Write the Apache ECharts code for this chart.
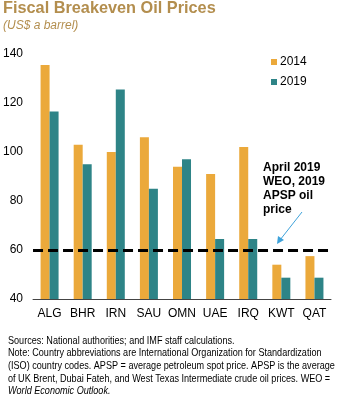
<!DOCTYPE html>
<html><head><meta charset="utf-8">
<script src="https://cdn.jsdelivr.net/npm/echarts@6/dist/echarts.min.js"></script>
<style>html,body{margin:0;padding:0;background:#fff}#c{width:338px;height:400px}</style>
</head><body><div id="c"></div>
<script>
var categories = ['ALG','BHR','IRN','SAU','OMN','UAE','IRQ','KWT','QAT'];
var values2014 = [135.5, 103, 100, 106, 94, 91, 102, 54, 57.5];
var values2019 = [116.5, 95, 125.5, 85, 97, 64.5, 64.5, 48.7, 48.7];
var yTicks = [40, 60, 80, 100, 120, 140];
var referencePrice = 60;
var titleText = 'Fiscal Breakeven Oil Prices';
var subtitleText = '(US$ a barrel)';
var annotationText = 'April 2019\nWEO, 2019\nAPSP oil\nprice';
var footnoteLines = [
 'Sources: National authorities; and IMF staff calculations.',
 'Note: Country abbreviations are International Organization for Standardization',
 '(ISO) country codes. APSP = average petroleum spot price. APSP is the average',
 'of UK Brent, Dubai Fateh, and West Texas Intermediate crude oil prices. WEO ='
];
var footnoteItalic = 'World Economic Outlook.';

var chart = echarts.init(document.getElementById('c'));
var sans = '"Liberation Sans", Arial, sans-serif';
var gold = '#B38E4E';
var graphics = [
 {type:'text', left:3, top:1, style:{text:titleText, font:'bold 16.3px ' + sans, fill:gold}},
 {type:'text', left:3, top:20, style:{text:subtitleText, font:'italic 12px ' + sans, fill:gold}},
 {type:'text', left:263, top:161, style:{text:annotationText, font:'bold 12px ' + sans, fill:'#000', lineHeight:14}},
 {type:'line', shape:{x1:302,y1:212,x2:280,y2:240}, style:{stroke:'#3EA2DA', lineWidth:1}},
 {type:'polygon', shape:{points:[[277,244],[278,236],[284,240]]}, style:{fill:'#3EA2DA'}}
];
var fnTop = 335.5, fnStep = 12.6, fnScale = 0.865;
footnoteLines.forEach(function(t,i){
 graphics.push({type:'text', x:8, y:fnTop + i*fnStep, scaleX:fnScale, style:{text:t, font:'10.5px ' + sans, fill:'#000'}});
});
graphics.push({type:'text', x:8, y:fnTop + 4*fnStep, scaleX:fnScale, style:{text:footnoteItalic, font:'italic 10.5px ' + sans, fill:'#000'}});

chart.setOption({
 animation:false,
 textStyle:{fontFamily:sans},
 grid:{left:31, right:7, top:54, bottom:101},
 legend:{orient:'vertical', left:266, top:51, itemWidth:6, itemHeight:6, itemGap:8,
   icon:'rect', textStyle:{fontSize:12, color:'#000', padding:[0,0,0,-2]},
   data:['2014','2019']},
 xAxis:{type:'category', data:categories,
   axisLine:{lineStyle:{color:'#444', width:1}}, axisTick:{show:false},
   axisLabel:{color:'#000', fontSize:12, margin:9, interval:0}},
 yAxis:{type:'value', min:yTicks[0], max:yTicks[yTicks.length-1], interval:20,
   axisLine:{show:false}, axisTick:{show:false}, splitLine:{show:false},
   axisLabel:{color:'#000', fontSize:12, margin:10}},
 series:[
  {name:'2014', type:'bar', data:values2014, barWidth:9, barGap:'0%', itemStyle:{color:'#EBA93B'},
   markLine:{silent:true, symbol:'none', label:{show:false},
     lineStyle:{color:'#000', type:[10,5], width:3},
     data:[{yAxis:referencePrice}]}, z:2},
  {name:'2019', type:'bar', data:values2019, barWidth:9, itemStyle:{color:'#2E8487'}}
 ],
 graphic:graphics
});
</script></body></html>
